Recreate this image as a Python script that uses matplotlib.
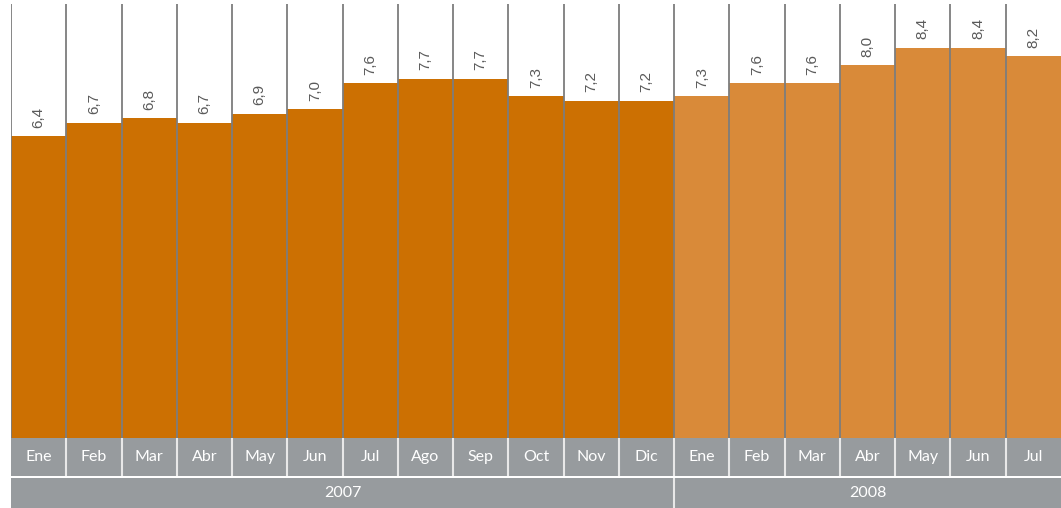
import numpy as np
import matplotlib.pyplot as plt

# Monthly values (Ene 2007 - Jul 2008)
months = ['Ene', 'Feb', 'Mar', 'Abr', 'May', 'Jun', 'Jul', 'Ago', 'Sep', 'Oct', 'Nov', 'Dic',
          'Ene', 'Feb', 'Mar', 'Abr', 'May', 'Jun', 'Jul']
values = [6.4, 6.7, 6.8, 6.7, 6.9, 7.0, 7.6, 7.7, 7.7, 7.3, 7.2, 7.2,
          7.3, 7.6, 7.6, 8.0, 8.4, 8.4, 8.2]
years = ['2007', '2008']
months_per_year = [12, 7]

col_2007 = '#cc7002'
col_2008 = '#d98a39'
band = '#979b9e'

plt.rcParams['font.family'] = ['Lato', 'DejaVu Sans']

W, H = 1061, 508
fig = plt.figure(figsize=(W / 100, H / 100), dpi=100)

def px_axes(x0, y0, x1, y1):
    # axes from pixel box (top-left origin)
    return fig.add_axes([x0 / W, 1 - y1 / H, (x1 - x0) / W, (y1 - y0) / H])

n = len(values)
x = np.arange(n)
colors = [col_2007] * months_per_year[0] + [col_2008] * months_per_year[1]

# value axis of the original does not start at zero
ymin, ymax = -0.45, 9.39

# Bars
ax = px_axes(11, 4, 1061, 438)
ax.bar(x, np.array(values) - ymin, bottom=ymin, width=1.0, color=colors, edgecolor='none')
for i in range(n):
    ax.axvline(i - 0.5, color='#7d7d7d', lw=1.3)
    ax.annotate(('%.1f' % values[i]).replace('.', ','), (i, values[i]),
                xytext=(0, 6), textcoords='offset points', rotation=90,
                ha='center', va='bottom', fontsize=11, color='#5a5a5a',
                family=['Liberation Sans', 'DejaVu Sans'])
ax.set_xlim(-0.5, n - 0.5)
ax.set_ylim(ymin, ymax)
ax.axis('off')

# Month band
axm = px_axes(11, 438, 1061, 476)
axm.set_facecolor(band)
for i in range(n):
    axm.text(i, 0.5, months[i], ha='center', va='center', color='white', fontsize=11.5)
    if i > 0:
        axm.axvline(i - 0.5, color='#e8e8e8', lw=1.5)
axm.set_xlim(-0.5, n - 0.5)
axm.set_ylim(0, 1)
axm.set_xticks([])
axm.set_yticks([])
for s in axm.spines.values():
    s.set_visible(False)

# Year band
axy = px_axes(11, 478, 1061, 508)
axy.set_facecolor(band)
start = 0
for yr, cnt in zip(years, months_per_year):
    axy.text(start + cnt / 2 - 0.5, 0.5, yr, ha='center', va='center', color='white', fontsize=11.5)
    if start > 0:
        axy.axvline(start - 0.5, color='#e8e8e8', lw=1.5)
    start += cnt
axy.set_xlim(-0.5, n - 0.5)
axy.set_ylim(0, 1)
axy.set_xticks([])
axy.set_yticks([])
for s in axy.spines.values():
    s.set_visible(False)

fig.savefig('out.png', dpi=100)
